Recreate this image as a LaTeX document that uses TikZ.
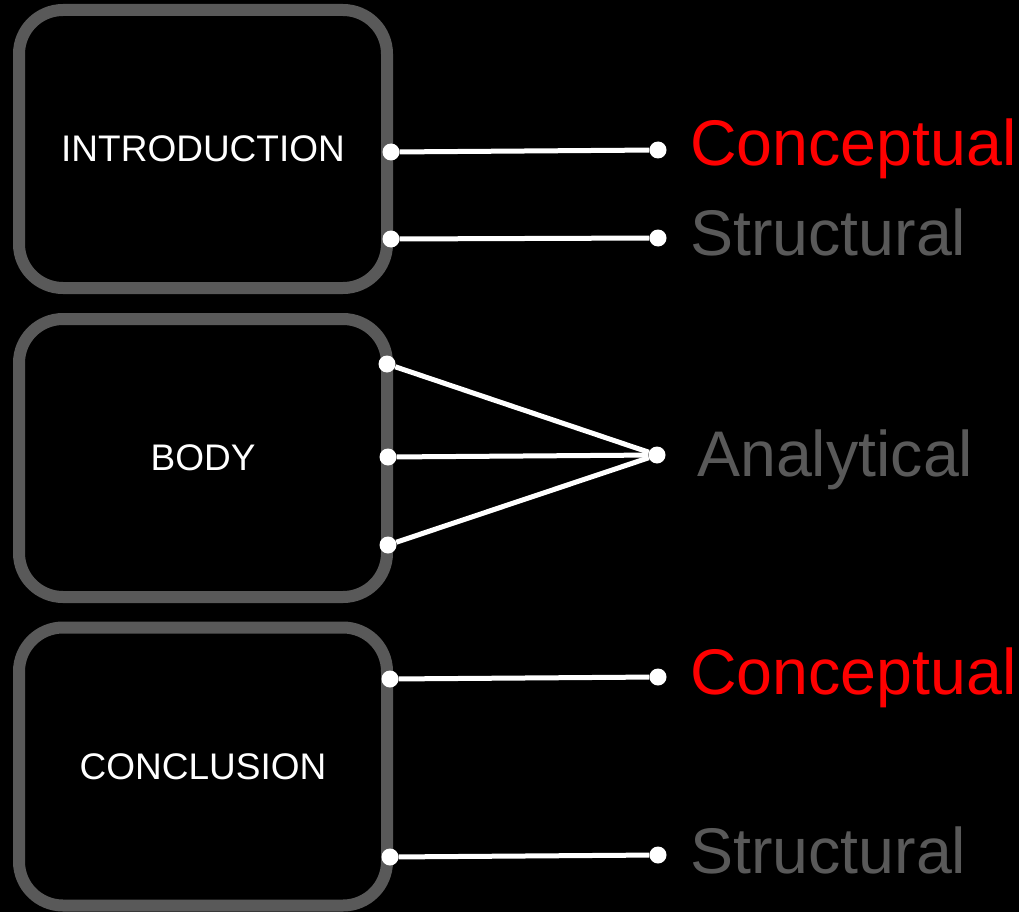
\documentclass[tikz,border=0pt]{standalone}
\usepackage{fontspec}
\setmainfont{Liberation Sans}
\definecolor{boxgray}{RGB}{89,89,89}
\definecolor{labgray}{RGB}{89,89,89}
\definecolor{hotred}{RGB}{255,0,0}
\begin{document}
\begin{tikzpicture}[x=1pt,y=-1pt,
  section/.style={draw=boxgray, line width=12pt, rounded corners=44pt, fill=black,
    minimum width=368pt, minimum height=278pt, inner sep=0pt, text=white,
    font=\fontsize{37}{37}\selectfont},
  pin/.style={circle, fill=white, draw=none, minimum size=17pt, inner sep=0pt},
  wire/.style={draw=white, line width=5pt},
  tag/.style={anchor=base west, inner sep=0pt, font=\fontsize{64.5}{64.5}\selectfont}]
  % page
  \fill[black] (0,0) rectangle (1019,912);
  \useasboundingbox (0,0) rectangle (1019,912);

  % section boxes
  \node[section] (intro) at (203,149) {INTRODUCTION};
  \node[section] (body)  at (203,458) {BODY};
  \node[section] (concl) at (203,766.5) {CONCLUSION};

  % introduction connectors
  \node[pin] (i1) at (391,152) {};
  \node[pin] (i2) at (391,239) {};
  \node[pin] (ic) at (658,150) {};
  \node[pin] (is) at (658,238) {};
  \draw[wire] (i1) -- (ic);
  \draw[wire] (i2) -- (is);

  % body connectors
  \node[pin] (b1) at (387,364) {};
  \node[pin] (b2) at (388,457) {};
  \node[pin] (b3) at (388,545) {};
  \node[pin] (ba) at (657,455) {};
  \draw[wire] (b1) -- (ba);
  \draw[wire] (b2) -- (ba);
  \draw[wire] (b3) -- (ba);

  % conclusion connectors
  \node[pin] (c1) at (390,679) {};
  \node[pin] (c2) at (390,857) {};
  \node[pin] (cc) at (658,677) {};
  \node[pin] (cs) at (658,855) {};
  \draw[wire] (c1) -- (cc);
  \draw[wire] (c2) -- (cs);

  % labels
  \node[tag, text=hotred]  (t1) at (690,166) {Conceptual};
  \node[tag, text=labgray] (t2) at (690,255) {Structural};
  \node[tag, text=labgray] (t3) at (697,476) {Analytical};
  \node[tag, text=hotred]  (t4) at (690,694) {Conceptual};
  \node[tag, text=labgray] (t5) at (690,873) {Structural};
\end{tikzpicture}
\end{document}
